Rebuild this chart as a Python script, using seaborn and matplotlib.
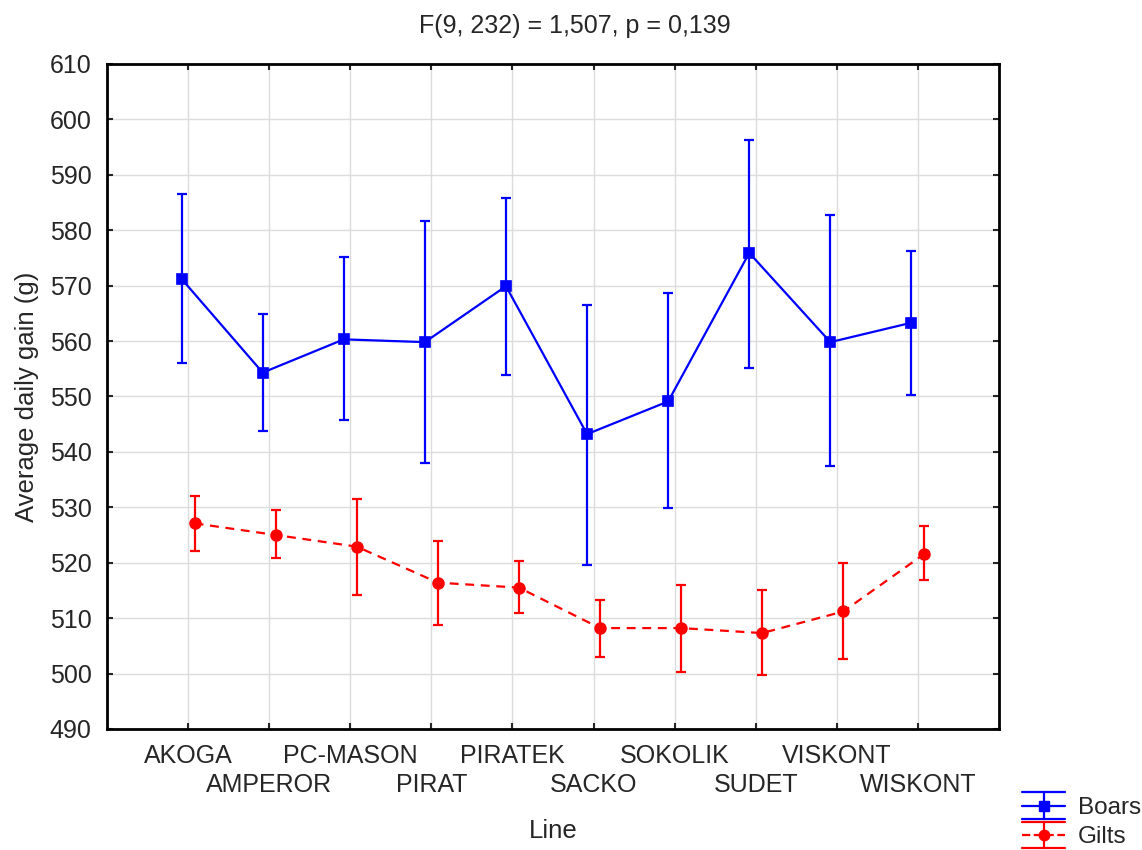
import numpy as np
import pandas as pd
import matplotlib
matplotlib.use("Agg")
import matplotlib.pyplot as plt
from matplotlib.lines import Line2D
from matplotlib.legend_handler import HandlerBase
import seaborn as sns

lines = ["AKOGA", "AMPEROR", "PC-MASON", "PIRAT", "PIRATEK",
         "SACKO", "SOKOLIK", "SUDET", "VISKONT", "WISKONT"]

boars_mean = [571.2, 554.3, 560.3, 559.8, 569.9, 543.2, 549.1, 575.9, 559.8, 563.3]
boars_low = [556.0, 543.7, 545.7, 538.0, 553.9, 519.5, 529.9, 555.1, 537.5, 550.3]
boars_high = [586.5, 564.9, 575.2, 581.7, 585.8, 566.5, 568.7, 596.3, 582.8, 576.3]

gilts_mean = [527.1, 525.0, 522.9, 516.4, 515.5, 508.2, 508.2, 507.3, 511.2, 521.6]
gilts_low = [522.1, 520.8, 514.1, 508.7, 510.9, 502.9, 500.2, 499.8, 502.7, 516.9]
gilts_high = [532.1, 529.5, 531.5, 523.9, 520.3, 513.3, 516.0, 515.0, 520.0, 526.7]

title = "F(9, 232) = 1,507, p = 0,139"
y_ticks = [490, 500, 510, 520, 530, 540, 550, 560, 570, 580, 590, 600, 610]

sns.set_style("white")
plt.rcParams["font.family"] = ["Liberation Sans", "DejaVu Sans"]

fig = plt.figure(figsize=(11.42, 8.5), dpi=100)
ax = fig.add_axes([0.0937, 0.1424, 0.7811, 0.7824])

df = pd.DataFrame({
    "Line": lines * 2,
    "gain": boars_mean + gilts_mean,
    "Sex": ["Boars"] * len(lines) + ["Gilts"] * len(lines),
})

blue = "#0000ff"
red = "#ff0000"
dodge = 0.16
sns.pointplot(data=df, x="Line", y="gain", hue="Sex", order=lines,
              hue_order=["Boars", "Gilts"], palette=[blue, red],
              markers=["s", "o"], linestyles=["-", (0, (4, 3))],
              dodge=dodge, errorbar=None, legend=False, ax=ax,
              markersize=7.8, linewidth=1.6)

idx = np.arange(len(lines))
ax.errorbar(idx - dodge / 2, boars_mean,
            yerr=[np.array(boars_mean) - np.array(boars_low),
                  np.array(boars_high) - np.array(boars_mean)],
            fmt="none", ecolor=blue, elinewidth=1.6, capsize=3.8, capthick=1.6)
ax.errorbar(idx + dodge / 2, gilts_mean,
            yerr=[np.array(gilts_mean) - np.array(gilts_low),
                  np.array(gilts_high) - np.array(gilts_mean)],
            fmt="none", ecolor=red, elinewidth=1.6, capsize=3.8, capthick=1.6)

ax.set_xlim(-1, 10)
ax.set_ylim(490, 610)
ax.set_yticks(y_ticks)
# even categories on the first row, odd categories on the second row
ax.set_xticks(idx[0::2])
ax.set_xticklabels(lines[0::2])
ax.set_xticks(idx[1::2], minor=True)
ax.set_xticklabels(lines[1::2], minor=True)
ax.grid(True, which="both", color="#dcdcdc", linewidth=1.0)
ax.set_axisbelow(True)
for s in ax.spines.values():
    s.set_visible(True)
    s.set_color("black")
    s.set_linewidth(2.0)
ax.tick_params(axis="both", which="both", direction="in", length=4, width=1.5,
               top=True, right=True, bottom=True, left=True,
               labelsize=18, pad=11)
ax.tick_params(axis="y", which="minor", left=False, right=False)
ax.tick_params(axis="x", which="minor", pad=32)
ax.set_xlabel("Line", fontsize=18.5)
ax.xaxis.set_label_coords(0.5, -0.136)
ax.set_ylabel("Average daily gain (g)", fontsize=18.5)
ax.yaxis.set_label_coords(-0.076, 0.5)
fig.suptitle(title, fontsize=18, x=0.503, y=1 - 14 / 850, va="top")


class HandlerStat(HandlerBase):
    def create_artists(self, legend, orig_handle, xdescent, ydescent,
                       width, height, fontsize, trans):
        c = orig_handle.get_color()
        x0, x1 = -xdescent, -xdescent + width
        xc = (x0 + x1) / 2
        ym = -ydescent + height / 2
        dy = height * 0.78
        lw = 1.6
        arts = [
            Line2D([x0, x1], [ym + dy, ym + dy], color=c, lw=lw),
            Line2D([x0, x1], [ym - dy, ym - dy], color=c, lw=lw),
            Line2D([x0, x1], [ym, ym], color=c, lw=lw,
                   linestyle=orig_handle.get_linestyle()),
            Line2D([xc, xc], [ym - dy, ym + dy], color=c, lw=lw),
            Line2D([xc], [ym], color=c, marker=orig_handle.get_marker(),
                   markersize=7.5, linestyle="none"),
        ]
        for a in arts:
            a.set_transform(trans)
        return arts


h_b = Line2D([], [], color=blue, marker="s", linestyle="-")
h_g = Line2D([], [], color=red, marker="o", linestyle="--")
fig.legend(handles=[h_b, h_g], labels=["Boars", "Gilts"],
           handler_map={Line2D: HandlerStat()},
           loc="upper left", bbox_to_anchor=(1022 / 1142, 1 - 797 / 850),
           frameon=False, fontsize=17.5, handlelength=1.77, handletextpad=0.53,
           labelspacing=0.3, borderpad=0.0, borderaxespad=0.0)

fig.savefig("out.png", dpi=100)
